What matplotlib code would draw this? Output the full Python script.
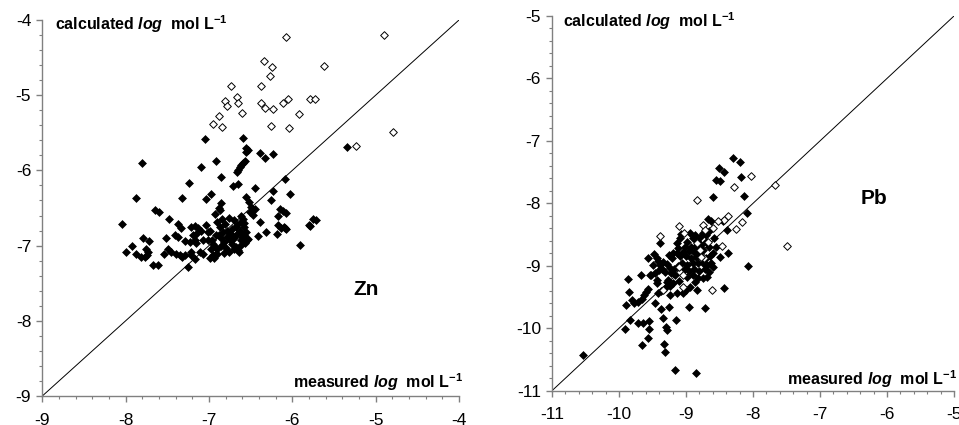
import matplotlib
matplotlib.use("Agg")
import matplotlib.pyplot as plt
from matplotlib.ticker import MultipleLocator

plt.rcParams['font.family'] = ['Liberation Sans', 'DejaVu Sans']
plt.rcParams['axes.unicode_minus'] = False
plt.rcParams['mathtext.fontset'] = 'custom'
plt.rcParams['mathtext.rm'] = 'Liberation Sans:bold'
plt.rcParams['mathtext.it'] = 'Liberation Sans:bold:italic'
plt.rcParams['mathtext.bf'] = 'Liberation Sans:bold'

# Zn: measured vs calculated (log mol/L)
zn_open_x = [-6.08, -4.90, -6.34, -6.24, -5.62, -6.27, -6.74, -6.37, -6.66, -6.81,
             -6.65, -6.78, -6.38, -6.33, -6.23, -6.11, -6.05, -5.79, -5.73, -6.60,
             -5.92, -6.88, -6.95, -6.84, -6.26, -6.04, -4.79, -5.23]
zn_open_y = [-4.22, -4.20, -4.55, -4.63, -4.61, -4.74, -4.88, -4.88, -5.03, -5.08,
             -5.11, -5.15, -5.11, -5.17, -5.18, -5.10, -5.05, -5.05, -5.05, -5.24,
             -5.25, -5.27, -5.38, -5.42, -5.41, -5.43, -5.49, -5.67]

zn_fill_x = [-7.05, -6.59, -6.55, -6.53, -6.56, -6.39, -6.23, -6.33, -5.34, -7.80,
             -6.91, -6.57, -6.59, -6.61, -6.63, -6.65, -6.66, -7.09, -6.85, -7.24,
             -6.71, -6.65, -6.45, -6.09, -6.23, -6.97, -6.03,
             -7.87, -7.32, -7.03, -6.55, -6.52, -6.25, -6.86, -6.88, -6.49, -6.45,
             -6.51, -6.47, -6.15, -6.11, -6.07, -6.17, -7.65, -7.60, -7.48, -5.75,
             -5.71, -5.79, -6.59, -6.61, -6.39, -8.04, -7.37, -7.33, -7.21, -7.17,
             -7.13, -7.09, -7.15, -7.19, -7.03, -7.01, -6.93, -6.87,
             -6.17, -6.13, -6.09, -6.31, -6.18, -6.41, -6.53, -6.57, -6.61, -5.91,
             -7.41, -7.37, -7.79, -7.72, -7.52, -7.29, -7.23, -7.17, -7.15, -7.07,
             -7.92, -8.00, -7.87, -7.75, -7.73, -7.74, -7.77, -7.82, -7.54, -7.49,
             -7.45, -7.39, -7.35, -7.32, -7.29, -7.21, -7.21, -7.17, -7.25, -7.67,
             -7.61, -7.11, -7.07, -6.99, -6.94, -6.90, -6.95, -6.91,
             -6.90, -6.81, -6.66, -6.68, -6.58, -6.78, -6.87, -6.99, -6.95, -7.01,
             -6.88, -6.85, -6.82, -6.78, -6.75, -6.72, -6.70, -6.68, -6.66, -6.63,
             -6.60, -6.58, -6.55, -6.64, -6.57, -6.54, -6.91, -6.93, -6.90, -6.85,
             -6.80, -6.76, -6.70, -6.96, -6.83, -6.72, -6.62, -6.74, -6.98, -6.82,
             -6.65, -6.62, -6.70, -6.76, -6.84, -6.58, -5.80, -6.10, -6.08]
zn_fill_y = [-5.58, -5.57, -5.70, -5.73, -5.75, -5.77, -5.78, -5.84, -5.69, -5.90,
             -5.87, -5.87, -5.90, -5.93, -5.96, -5.99, -6.02, -5.95, -6.09, -6.17,
             -6.21, -6.18, -6.24, -6.12, -6.27, -6.32, -6.31,
             -6.37, -6.37, -6.38, -6.35, -6.42, -6.40, -6.43, -6.50, -6.49, -6.51,
             -6.55, -6.59, -6.51, -6.54, -6.57, -6.60, -6.53, -6.55, -6.64, -6.64,
             -6.66, -6.74, -6.64, -6.69, -6.69, -6.71, -6.71, -6.77, -6.75, -6.74,
             -6.77, -6.81, -6.84, -6.86, -6.73, -6.82, -6.58, -6.53,
             -6.73, -6.77, -6.77, -6.82, -6.84, -6.87, -6.91, -6.95, -6.99, -6.99,
             -6.86, -6.89, -6.90, -6.94, -6.90, -6.94, -6.95, -6.92, -6.97, -6.93,
             -7.00, -7.09, -7.11, -7.04, -7.09, -7.13, -7.15, -7.15, -7.11, -7.04,
             -7.09, -7.11, -7.13, -7.15, -7.13, -7.13, -7.09, -7.18, -7.28, -7.26,
             -7.26, -7.09, -7.11, -7.16, -7.16, -7.11, -7.13, -7.11,
             -6.69, -6.71, -6.72, -6.75, -6.75, -6.80, -6.75, -6.80, -6.98, -6.93,
             -6.86, -6.90, -6.95, -6.88, -6.92, -6.98, -6.90, -7.02, -6.85, -6.80,
             -6.88, -6.86, -6.82, -7.08, -6.96, -6.92, -6.86, -7.02, -7.05, -7.00,
             -7.03, -7.08, -7.05, -6.92, -6.82, -6.78, -6.93, -6.85, -7.05, -7.10,
             -7.06, -6.60, -6.66, -6.63, -6.64, -6.70, -6.73, -6.75, -6.78]

# Pb
pb_open_x = [-8.03, -7.67, -8.29, -8.83, -8.38, -8.17, -8.26, -8.44, -8.52, -8.74,
             -8.59, -9.11, -9.39, -8.72, -8.47, -7.49, -8.61, -9.34, -9.09, -9.05,
             -8.84, -8.73, -9.03, -9.10, -8.67, -8.79, -8.77, -9.04]
pb_open_y = [-7.56, -7.70, -7.74, -7.94, -8.20, -8.30, -8.41, -8.27, -8.29, -8.34,
             -8.39, -8.36, -8.53, -8.42, -8.69, -8.69, -9.39, -9.39, -9.10, -9.15,
             -8.64, -8.88, -8.48, -9.02, -8.62, -8.74, -8.86, -9.34]

pb_fill_x = [-8.30, -8.20, -8.51, -8.43, -8.55, -8.49, -8.18, -8.60, -8.13, -8.09,
             -8.67, -8.62, -8.45, -8.39, -8.49, -8.38, -8.07, -8.44, -8.60, -8.55,
             -8.58, -8.66, -8.70, -8.75,
             -9.09, -9.14, -9.39, -8.87, -8.79, -9.07, -8.94, -8.90, -8.84, -8.98,
             -9.02, -8.92, -8.85, -8.78, -8.70, -8.66, -8.74, -8.80, -8.88, -8.96,
             -9.05, -9.12, -9.14, -9.09, -9.00, -8.93, -8.85, -8.70, -8.64, -8.62,
             -8.68, -8.75, -8.82, -8.90, -8.98, -9.06, -9.19, -9.21, -9.26, -9.34,
             -9.39, -9.42, -9.48, -9.56, -9.28, -9.24,
             -9.18, -9.12, -9.02, -8.95, -8.88, -8.80, -8.72, -8.66, -8.60, -8.68,
             -8.75, -8.82, -8.87, -8.94, -8.90, -8.98, -9.04, -9.14, -9.10, -9.16,
             -9.22, -9.20, -9.27, -9.24, -9.29, -9.31, -9.36, -9.41, -9.46, -9.44,
             -9.43, -9.52, -9.67, -9.53, -9.87, -9.24, -9.38, -9.42, -9.46, -9.37,
             -9.25, -8.96, -8.72, -8.83, -9.00, -9.32,
             -9.85, -9.56, -9.59, -9.63, -9.66, -9.71, -9.78, -9.81, -9.89, -9.84,
             -9.91, -9.71, -9.64, -9.55, -9.55, -9.57, -9.66, -10.53, -9.33, -9.31,
             -9.34, -9.30, -9.29, -9.15, -9.17, -8.85, -9.50, -9.44]
pb_fill_y = [-7.28, -7.34, -7.44, -7.50, -7.62, -7.65, -7.58, -7.90, -7.88, -8.16,
             -8.25, -8.28, -8.29, -8.42, -8.86, -8.80, -9.01, -9.35, -8.80, -8.70,
             -8.55, -8.45, -8.50, -8.48,
             -8.55, -8.64, -8.64, -8.51, -8.54, -8.49, -8.47, -8.55, -8.60, -8.62,
             -8.70, -8.70, -8.68, -8.66, -8.62, -8.70, -8.75, -8.80, -8.78, -8.76,
             -8.78, -8.72, -8.80, -8.85, -8.85, -8.88, -8.86, -8.88, -8.84, -8.95,
             -8.98, -8.95, -8.96, -8.95, -8.98, -8.95, -8.80, -8.88, -8.83, -8.94,
             -8.99, -8.93, -8.81, -8.88, -8.97, -9.03,
             -9.05, -9.00, -9.05, -9.08, -9.05, -9.08, -9.05, -9.10, -9.02, -9.18,
             -9.20, -9.20, -9.26, -9.34, -9.15, -9.18, -9.43, -9.43, -9.25, -9.15,
             -9.12, -9.27, -9.22, -9.32, -9.26, -9.10, -9.05, -9.07, -9.12, -9.22,
             -9.28, -9.15, -9.15, -9.15, -9.21, -9.47, -9.41, -9.44, -9.60, -9.69,
             -9.66, -9.66, -9.68, -9.39, -9.38, -9.36,
             -9.42, -9.37, -9.42, -9.47, -9.53, -9.58, -9.59, -9.55, -9.63, -9.87,
             -10.02, -9.91, -9.91, -9.88, -10.02, -10.15, -10.27, -10.43, -10.26, -10.38,
             -9.84, -9.98, -10.03, -9.86, -10.67, -10.71, -8.98, -8.88]

panels = [
    dict(name='Zn', lo=-9, hi=-4, fx=zn_fill_x, fy=zn_fill_y, ox=zn_open_x, oy=zn_open_y,
         rect=[0.0441, 0.0682, 0.4345, 0.8847], label_xy=(-5.11, -7.58),
         calc_xy=(0.030, 0.973), meas_xy=(1.010, 0.022)),
    dict(name='Pb', lo=-11, hi=-5, fx=pb_fill_x, fy=pb_fill_y, ox=pb_open_x, oy=pb_open_y,
         rect=[0.5756, 0.0807, 0.4192, 0.8817], label_xy=(-6.19, -7.92),
         calc_xy=(0.027, 0.971), meas_xy=(1.008, 0.015)),
]

fig = plt.figure(figsize=(9.59, 4.25), dpi=100)
spine_col = '#808080'

for p in panels:
    ax = fig.add_axes(p['rect'])
    lo, hi = p['lo'], p['hi']
    ax.set_xlim(lo, hi)
    ax.set_ylim(lo, hi)
    ax.plot([lo, hi], [lo, hi], color='black', lw=0.7, zorder=1)
    ax.scatter(p['fx'], p['fy'], marker='D', s=4.0 ** 2, c='black',
               edgecolors='black', linewidths=0.5, zorder=2, clip_on=False)
    ax.scatter(p['ox'], p['oy'], marker='D', s=3.9 ** 2, c='white',
               edgecolors='black', linewidths=0.7, zorder=3, clip_on=False)

    for side in ['top', 'right']:
        ax.spines[side].set_visible(False)
    for side in ['left', 'bottom']:
        ax.spines[side].set_color(spine_col)
        ax.spines[side].set_linewidth(1.0)

    ax.xaxis.set_major_locator(MultipleLocator(1))
    ax.yaxis.set_major_locator(MultipleLocator(1))
    ax.xaxis.set_minor_locator(MultipleLocator(0.2))
    ax.yaxis.set_minor_locator(MultipleLocator(0.2))
    ax.tick_params(which='major', direction='out', length=4, width=1, color=spine_col,
                   labelsize=12.5)
    ax.tick_params(which='minor', direction='out', length=2.5, width=0.8, color=spine_col)
    ax.tick_params(axis='x', which='major', pad=8)
    ax.tick_params(axis='y', which='major', pad=4)

    ax.text(p['calc_xy'][0], p['calc_xy'][1],
            r'calculated $\mathit{log}$  mol L$^{\mathrm{-1}}$',
            transform=ax.transAxes, ha='left', va='baseline',
            fontsize=11.5, fontweight='bold')
    ax.text(p['meas_xy'][0], p['meas_xy'][1],
            r'measured $\mathit{log}$  mol L$^{\mathrm{-1}}$',
            transform=ax.transAxes, ha='right', va='baseline',
            fontsize=11.5, fontweight='bold')
    ax.text(p['label_xy'][0], p['label_xy'][1], p['name'],
            ha='center', va='center', fontsize=15, fontweight='bold')

fig.savefig('out.png', dpi=100)
